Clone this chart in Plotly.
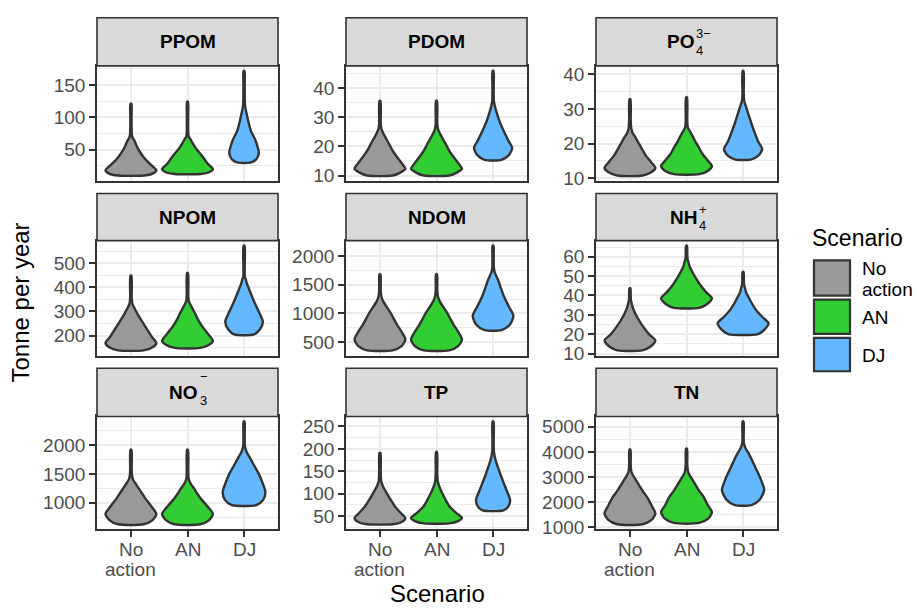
import plotly.graph_objects as go

# ---------------- data ----------------
SCENARIOS = ["No action", "AN", "DJ"]
SCENARIO_LINES = [["No", "action"], ["AN"], ["DJ"]]

PANELS = ["PPOM", "PDOM", "PO4", "NPOM", "NDOM", "NH4", "NO3", "TP", "TN"]
STRIP_MAIN = ["PPOM", "PDOM", "PO", "NPOM", "NDOM", "NH", "NO", "TP", "TN"]
STRIP_SUB = ["", "", "4", "", "", "4", "3", "", ""]
STRIP_SUP = ["", "", "3\u2212", "", "", "+", "\u2212", "", ""]

# Violin outlines: values (tonne per year) from min to max,
# and the relative density half-width at each value (1 = widest violin).
PPOM_V = [[10, 13, 18, 26, 36, 46, 56, 63, 68, 74, 100, 121],
          [12.4, 15, 20, 28, 41, 52, 60, 66, 70, 76, 100, 124],
          [30, 34, 40, 46, 56, 66, 79, 95, 106, 115, 125, 150, 171.5]]
PPOM_W = [[.5, .85, 1.0, .8, .55, .36, .22, .15, .07, .035, .025, .02],
          [.5, .85, 1.0, .8, .56, .33, .2, .12, .05, .03, .025, .02],
          [.24, .45, .55, .58, .52, .43, .27, .16, .1, .05, .03, .025, .02]]

PDOM_V = [[10, 11, 12.3, 14, 16.6, 19, 21, 23, 24.5, 26, 28, 35.7],
          [10, 11, 12.3, 14, 16.6, 19, 21, 23, 24.5, 26, 28, 35.7],
          [15.4, 17, 19.4, 22, 24.5, 27, 30, 33.5, 35.7, 40, 45.9]]
PDOM_W = [[.5, .8, 1.0, .88, .65, .47, .35, .22, .13, .06, .03, .02],
          [.5, .8, 1.0, .88, .65, .47, .35, .22, .13, .06, .03, .02],
          [.33, .62, .75, .6, .46, .33, .2, .08, .03, .025, .02]]

PO4_V = [[10.8, 11.8, 13, 14.5, 16.6, 18.5, 20.3, 22, 23.1, 24.5, 27, 32.8],
         [11.2, 12.2, 13.5, 15, 17, 19, 20.3, 22, 23.6, 24.7, 27, 33.3],
         [15.4, 16.5, 18.4, 20.5, 23.1, 25.5, 27.8, 31, 32.5, 35, 40.9]]
PO4_W = [[.5, .85, 1.0, .85, .62, .47, .33, .2, .1, .05, .03, .02],
         [.5, .85, 1.0, .85, .63, .48, .37, .25, .13, .05, .03, .02],
         [.3, .6, .75, .6, .46, .34, .24, .1, .04, .025, .02]]

NPOM_V = [[139, 152, 169, 195, 230, 260, 284, 305, 324, 335, 360, 449],
          [149, 162, 178, 205, 236, 265, 291, 315, 331, 343, 370, 459],
          [205, 225, 257, 290, 324, 360, 392, 420, 432, 445, 480, 572]]
NPOM_W = [[.5, .85, 1.0, .82, .61, .43, .29, .18, .09, .05, .03, .02],
          [.5, .85, 1.0, .82, .59, .42, .3, .18, .1, .05, .03, .02],
          [.39, .62, .74, .62, .47, .32, .2, .1, .07, .03, .025, .02]]

NDOM_V = [[358, 430, 545, 660, 784, 900, 1011, 1110, 1210, 1290, 1400, 1682],
          [358, 430, 545, 660, 784, 900, 1011, 1110, 1210, 1290, 1400, 1682],
          [710, 800, 955, 1120, 1295, 1450, 1580, 1680, 1722, 1800, 2000, 2176]]
NDOM_W = [[.5, .85, 1.0, .88, .7, .55, .42, .27, .13, .06, .03, .02],
          [.5, .85, 1.0, .88, .7, .55, .42, .27, .13, .06, .03, .02],
          [.33, .65, .8, .62, .43, .3, .2, .1, .06, .03, .025, .02]]

NH4_V = [[11.7, 13.5, 16.7, 20, 24.3, 28, 31, 33.5, 35.3, 37.5, 40, 43.7],
         [33.6, 35.5, 38.6, 42, 46.2, 50, 52.9, 55, 57.1, 59, 62, 65.6],
         [20.1, 22.5, 25.7, 29, 32.7, 36.5, 39.5, 41.5, 43.7, 45.5, 48, 52.1]]
NH4_W = [[.49, .8, 1.0, .75, .5, .32, .2, .12, .08, .04, .03, .02],
         [.49, .8, 1.0, .75, .5, .32, .2, .12, .08, .04, .03, .02],
         [.59, .85, 1.0, .75, .5, .32, .2, .12, .08, .04, .03, .02]]

NO3_V = [[628, 700, 806, 940, 1072, 1160, 1239, 1320, 1405, 1480, 1600, 1917],
         [628, 700, 806, 940, 1072, 1160, 1239, 1300, 1350, 1430, 1600, 1917],
         [961, 1050, 1183, 1350, 1517, 1650, 1794, 1880, 1933, 2000, 2200, 2406]]
NO3_W = [[.5, .85, 1.0, .8, .57, .44, .32, .2, .08, .04, .03, .02],
         [.5, .85, 1.0, .78, .52, .38, .27, .17, .1, .04, .03, .02],
         [.49, .75, .84, .72, .56, .39, .21, .1, .06, .03, .025, .02]]

TP_V = [[32, 37, 45, 57, 71, 84, 96, 108, 118, 128, 150, 191],
        [34, 39, 46, 57, 71, 84, 96, 108, 118, 128, 150, 193],
        [63, 72, 86, 105, 125, 143, 161, 175, 182, 195, 225, 261]]
TP_W = [[.5, .85, 1.0, .82, .6, .45, .32, .2, .11, .05, .03, .02],
        [.5, .85, 1.0, .78, .52, .38, .27, .17, .1, .05, .03, .02],
        [.41, .6, .67, .55, .41, .29, .18, .1, .07, .03, .025, .02]]

TN_V = [[1126, 1300, 1557, 1850, 2164, 2420, 2670, 2870, 3050, 3200, 3500, 4088],
        [1177, 1350, 1600, 1880, 2200, 2450, 2700, 2900, 3080, 3220, 3500, 4126],
        [1886, 2100, 2481, 2900, 3304, 3650, 3937, 4100, 4190, 4350, 4700, 5203]]
TN_W = [[.5, .85, 1.0, .86, .7, .52, .36, .24, .13, .06, .03, .02],
        [.5, .85, 1.0, .84, .68, .5, .35, .23, .12, .06, .03, .02],
        [.33, .65, .83, .7, .52, .36, .22, .12, .08, .03, .025, .02]]

PPOM_TICKS = [50, 100, 150]
PDOM_TICKS = [10, 20, 30, 40]
PO4_TICKS = [10, 20, 30, 40]
NPOM_TICKS = [200, 300, 400, 500]
NDOM_TICKS = [500, 1000, 1500, 2000]
NH4_TICKS = [10, 20, 30, 40, 50, 60]
NO3_TICKS = [1000, 1500, 2000]
TP_TICKS = [50, 100, 150, 200, 250]
TN_TICKS = [1000, 2000, 3000, 4000, 5000]

PANEL_V = [PPOM_V, PDOM_V, PO4_V, NPOM_V, NDOM_V, NH4_V, NO3_V, TP_V, TN_V]
PANEL_W = [PPOM_W, PDOM_W, PO4_W, NPOM_W, NDOM_W, NH4_W, NO3_W, TP_W, TN_W]
PANEL_TICKS = [PPOM_TICKS, PDOM_TICKS, PO4_TICKS, NPOM_TICKS, NDOM_TICKS,
               NH4_TICKS, NO3_TICKS, TP_TICKS, TN_TICKS]

# ---------------- style / layout ----------------
COLORS = ["#999999", "#32CD32", "#63B8FF"]
OUTLINE = "#333333"
GRID = "#EBEBEB"
FONT = "Liberation Sans, Arial, sans-serif"
HALF = 0.45
TICK_SIZE = 19

W, H = 917, 613
COL_PX = [(97, 278), (346, 527), (596, 777)]
ROW_PX = [(65, 182), (243, 360), (422, 537)]
STRIP_PX = [(16, 65), (195, 243), (373, 422)]


def fx(x):
    return x / W


def fy(y):
    return 1 - y / H


fig = go.Figure()
layout = dict(
    width=W, height=H, margin=dict(l=0, r=0, t=0, b=0),
    paper_bgcolor="white", plot_bgcolor="white", showlegend=False,
    font=dict(family=FONT, color="#4D4D4D"),
)
shapes = []
annotations = []

for i in range(9):
    r, c = divmod(i, 3)
    suffix = "" if i == 0 else str(i + 1)
    xa, ya = "x" + suffix, "y" + suffix
    allv = []
    for s in range(3):
        V = PANEL_V[i][s]
        Wd = PANEL_W[i][s]
        pos = s + 1
        xs = [pos + w * HALF for w in Wd] + [pos - w * HALF for w in reversed(Wd)] + [pos + Wd[0] * HALF]
        ys = list(V) + list(reversed(V)) + [V[0]]
        allv += V
        fig.add_trace(go.Scatter(
            x=xs, y=ys, xaxis=xa, yaxis=ya, mode="lines", fill="toself",
            fillcolor=COLORS[s], name=SCENARIOS[s],
            line=dict(color=OUTLINE, width=2.4, shape="spline", smoothing=0.7),
            hoverinfo="skip", showlegend=False))
    lo, hi = min(allv), max(allv)
    pad = 0.05 * (hi - lo)
    yr = [lo - pad, hi + pad]
    ticks = PANEL_TICKS[i]
    step = ticks[1] - ticks[0]
    minor = [t + step / 2 for t in [ticks[0] - step] + ticks]
    minor = [m for m in minor if yr[0] <= m <= yr[1]]

    c0, c1 = COL_PX[c]
    r0, r1 = ROW_PX[r]
    bottom = (r == 2)
    layout["xaxis" + suffix] = dict(
        domain=[fx(c0), fx(c1)], anchor=ya, range=[0.4, 3.6],
        tickmode="array", tickvals=[1, 2, 3], ticktext=SCENARIOS,
        showticklabels=False, ticks="outside" if bottom else "",
        ticklen=6, tickwidth=1.6, tickcolor=OUTLINE,
        showgrid=True, gridcolor=GRID, gridwidth=1.8, zeroline=False,
        showline=True, mirror=True, linecolor=OUTLINE, linewidth=1.6,
        fixedrange=True)
    layout["yaxis" + suffix] = dict(
        domain=[fy(r1), fy(r0)], anchor=xa, range=yr,
        tickmode="array", tickvals=ticks, ticks="outside",
        ticklen=6, tickwidth=1.6, tickcolor=OUTLINE,
        tickfont=dict(family=FONT, size=TICK_SIZE, color="#4D4D4D"),
        showgrid=True, gridcolor=GRID, gridwidth=1.8, zeroline=False,
        minor=dict(tickmode="array", tickvals=minor, showgrid=True,
                   gridcolor=GRID, gridwidth=1.0, ticks=""),
        showline=True, mirror=True, linecolor=OUTLINE, linewidth=1.6,
        fixedrange=True)

    # category labels under the bottom row (tight line spacing like the original)
    if bottom:
        for s in range(3):
            for k, line in enumerate(SCENARIO_LINES[s]):
                annotations.append(dict(
                    text=line, x=s + 1, y=fy(r1 + 20 + 21 * k), xref=xa, yref="paper",
                    showarrow=False, xanchor="center", yanchor="middle",
                    font=dict(family=FONT, size=TICK_SIZE, color="#4D4D4D")))

    # strip
    s0, s1 = STRIP_PX[r]
    shapes.append(dict(type="rect", xref="paper", yref="paper",
                       x0=fx(c0), x1=fx(c1), y0=fy(s1), y1=fy(s0),
                       fillcolor="#D9D9D9", line=dict(color=OUTLINE, width=1.6),
                       layer="above"))
    cx = (c0 + c1) / 2
    cy = (s0 + s1) / 2
    if not STRIP_SUB[i] and not STRIP_SUP[i]:
        annotations.append(dict(text="<b>%s</b>" % STRIP_MAIN[i], x=fx(cx), y=fy(cy),
                                xref="paper", yref="paper", showarrow=False,
                                xanchor="center", yanchor="middle",
                                font=dict(family=FONT, size=19, color="black")))
    else:
        script_w = 15 if len(STRIP_SUP[i]) > 1 else 8
        x0 = cx - (31 + script_w) / 2 + 31
        annotations.append(dict(text="<b>%s</b>" % STRIP_MAIN[i], x=fx(x0 + 1), y=fy(cy),
                                xref="paper", yref="paper", showarrow=False,
                                xanchor="right", yanchor="middle",
                                font=dict(family=FONT, size=19, color="black")))
        if STRIP_SUB[i]:
            annotations.append(dict(text=STRIP_SUB[i], x=fx(x0 - 1), y=fy(cy + 8.5),
                                    xref="paper", yref="paper", showarrow=False,
                                    xanchor="left", yanchor="middle",
                                    font=dict(family=FONT, size=13, color="black")))
        if STRIP_SUP[i]:
            dy = -16 if STRIP_SUP[i] == "\u2212" else -8
            annotations.append(dict(text=STRIP_SUP[i], x=fx(x0 - 1), y=fy(cy + dy),
                                    xref="paper", yref="paper", showarrow=False,
                                    xanchor="left", yanchor="middle",
                                    font=dict(family=FONT, size=13, color="black")))

# axis titles
annotations.append(dict(text="Scenario", x=fx(437), y=fy(602), xref="paper", yref="paper",
                        showarrow=False, xanchor="center", yanchor="middle",
                        font=dict(family=FONT, size=24, color="black")))
annotations.append(dict(text="Tonne per year", x=fx(21), y=fy(306), xref="paper", yref="paper",
                        showarrow=False, xanchor="center", yanchor="middle", textangle=-90,
                        font=dict(family=FONT, size=24, color="black")))

# legend (drawn manually)
annotations.append(dict(text="Scenario", x=fx(810), y=fy(240), xref="paper", yref="paper",
                        showarrow=False, xanchor="left", yanchor="middle",
                        font=dict(family=FONT, size=23, color="black")))
KEY_PX = [(262, 300), (302, 339), (341, 377)]
for s in range(3):
    k0, k1 = KEY_PX[s]
    shapes.append(dict(type="rect", xref="paper", yref="paper",
                       x0=fx(814), x1=fx(850), y0=fy(k1 - 1), y1=fy(k0 + 1),
                       fillcolor=COLORS[s], line=dict(color=OUTLINE, width=2.2)))
    lines = SCENARIO_LINES[s]
    mid = (k0 + k1) / 2 + 1
    for k, line in enumerate(lines):
        yy = mid + (k - (len(lines) - 1) / 2) * 21
        annotations.append(dict(text=line, x=fx(860), y=fy(yy),
                                xref="paper", yref="paper", showarrow=False,
                                xanchor="left", yanchor="middle", align="left",
                                font=dict(family=FONT, size=19, color="black")))

layout["shapes"] = shapes
layout["annotations"] = annotations
fig.update_layout(**layout)
fig.write_html("out.html")
